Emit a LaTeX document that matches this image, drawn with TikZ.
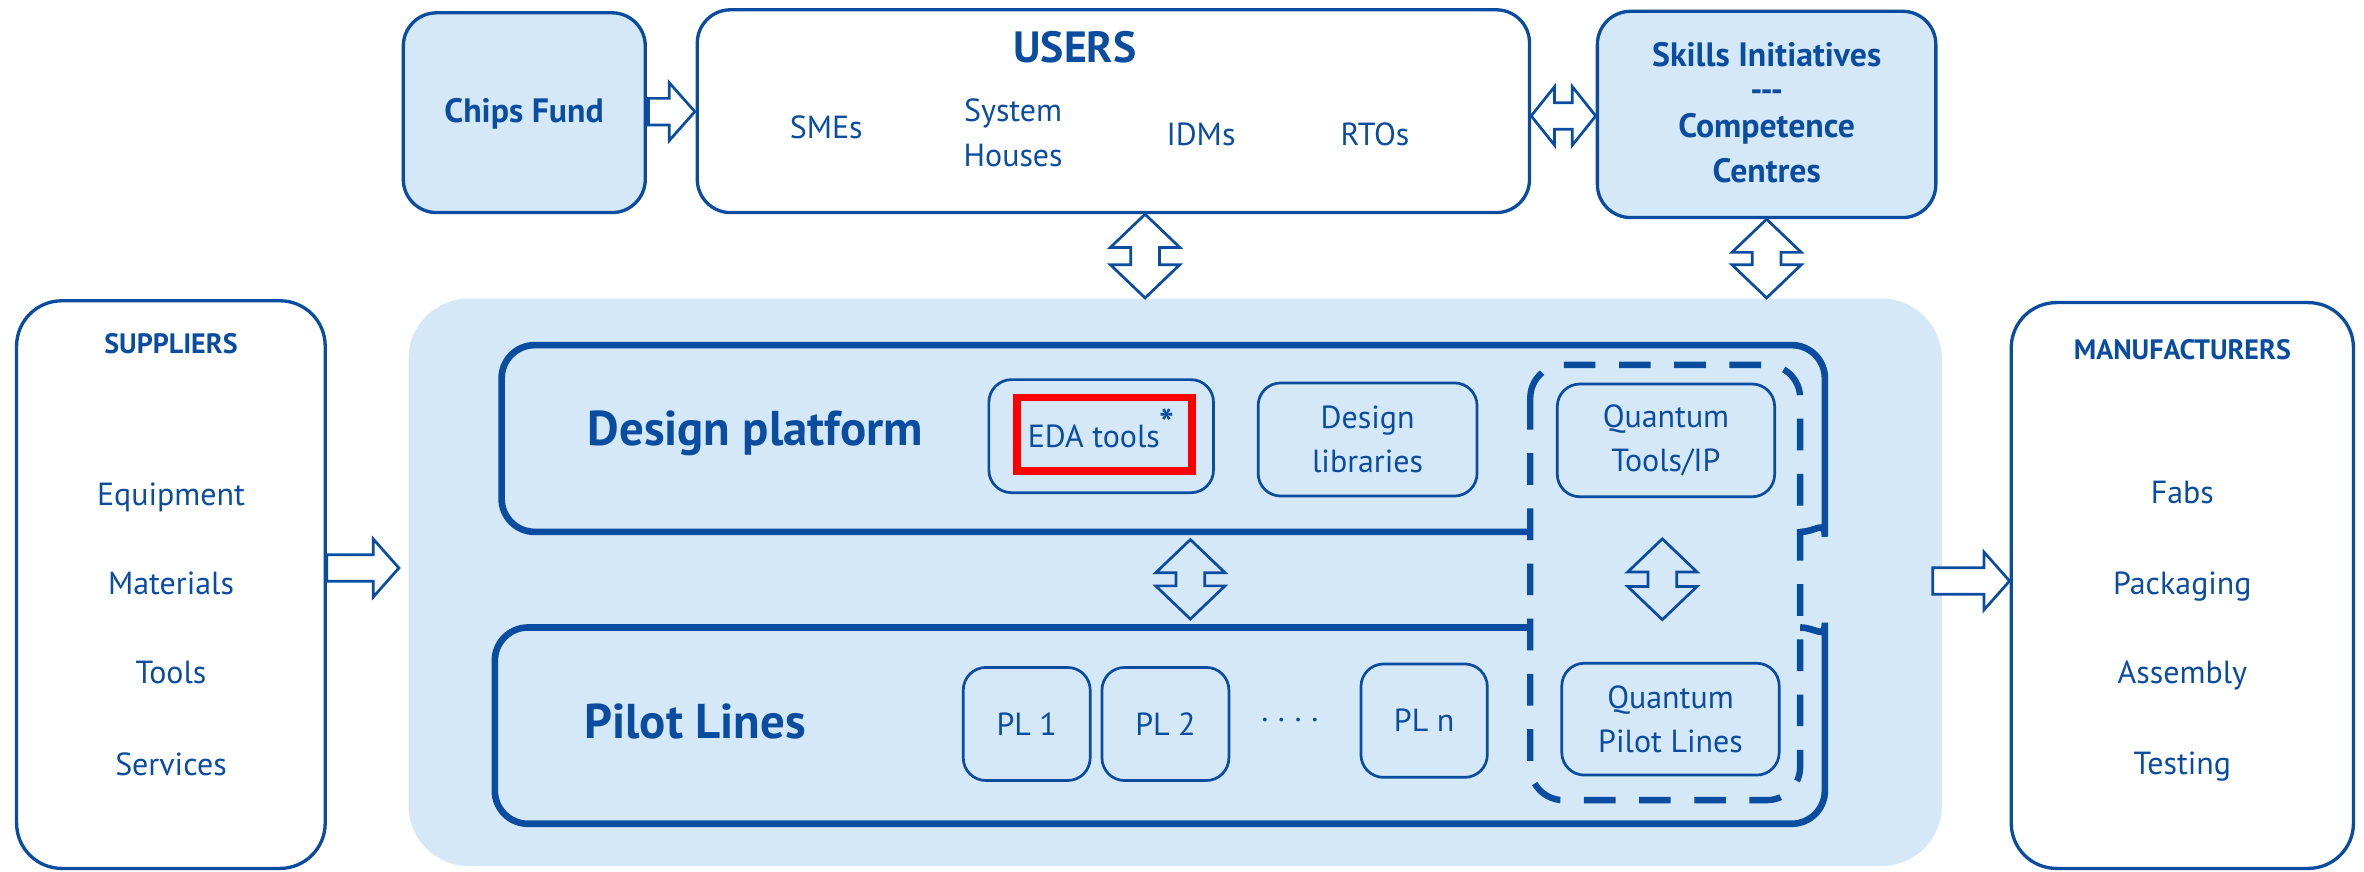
\documentclass[tikz,border=0pt]{standalone}
\usepackage{fontspec}
\setmainfont{PT Sans}
\usetikzlibrary{calc,fit}
\definecolor{eublue}{HTML}{0A4DA0}
\definecolor{eulight}{HTML}{D4E8F8}
\definecolor{edared}{HTML}{FF0000}
\newcommand\fsR{\fontsize{10.6}{14.5}\selectfont}
\newcommand\fsH{\bfseries\fontsize{9.3}{11}\selectfont}
\newcommand\fsM{\bfseries\fontsize{11.2}{13}\selectfont}
\newcommand\fsU{\bfseries\fontsize{14.5}{17}\selectfont}
\newcommand\fsL{\bfseries\fontsize{16.2}{19}\selectfont}
\tikzset{
  bigbox/.style={draw=eublue, line width=1.1pt, rounded corners=11pt, inner sep=0pt},
  smallbox/.style={draw=eublue, line width=0.9pt, rounded corners=7.5pt, fill=eulight, inner sep=0pt, align=center, text=eublue, font=\fsR},
  tx/.style={text=eublue, inner sep=0pt, anchor=base},
  frameline/.style={draw=eublue, line width=2.2pt},
  qframe/.style={draw=eublue, line width=2.1pt, dash pattern=on 10.5pt off 7.8pt, rounded corners=11pt},
  blockarrow/.style={draw=eublue, line width=0.9pt, line join=miter, miter limit=10}
}
% vertical double block arrow: #2 top tip, #3 bottom tip
\newcommand\vdarr[3][white]{%
  \path[blockarrow, fill=#1] let \p1=#2, \p2=#3 in
    (\x1,\y1) -- ++(11.5pt,-11pt) -- ++(-6.75pt,0pt) -- (\x1+4.75pt,\y2+11pt)
    -- ++(6.75pt,0pt) -- (\x1,\y2) -- ++(-11.5pt,11pt) -- ++(6.75pt,0pt)
    -- (\x1-4.75pt,\y1-11pt) -- ++(-6.75pt,0pt) -- cycle;}
% horizontal double block arrow: #2 left tip, #3 right tip
\newcommand\hdarr[3][white]{%
  \path[blockarrow, fill=#1] let \p1=#2, \p2=#3 in
    (\x1,\y1) -- ++(7.75pt,9.7pt) -- ++(0pt,-5.3pt) -- (\x2-7.75pt,\y1+4.4pt)
    -- ++(0pt,5.3pt) -- (\x2,\y1) -- ++(-7.75pt,-9.7pt) -- ++(0pt,5.3pt)
    -- (\x1+7.75pt,\y1-4.4pt) -- ++(0pt,-5.3pt) -- cycle;}
% right-pointing block arrow: #2 tail, #3 tip
\newcommand\rarr[3][white]{%
  \path[blockarrow, fill=#1] let \p1=#2, \p2=#3 in
    (\x1,\y1+4.4pt) -- (\x2-8.5pt,\y1+4.4pt) -- ++(0pt,5.2pt) -- (\x2,\y1)
    -- (\x2-8.5pt,\y1-9.6pt) -- ++(0pt,5.2pt) -- (\x1,\y1-4.4pt) -- cycle;}
\begin{document}
\begin{tikzpicture}[x=0.5pt,y=-0.5pt]
\useasboundingbox (0,0) rectangle (1568,578);

% background panel
\node[fill=eulight, rounded corners=20pt, inner sep=0pt, fit={(271,198) (1288,574.4)}] (bg) {};

% outer boxes
\node[bigbox, fill=white, rounded corners=15pt, fit={(11,199.5) (215.7,576)}] (sup) {};
\node[bigbox, fill=white, rounded corners=15pt, fit={(1334,200.7) (1561,576)}] (manuf) {};
\node[bigbox, fill=eulight, fit={(267.5,8.5) (428,141)}] (chips) {};
\node[bigbox, fill=white, fit={(462.5,6.5) (1014.5,141)}] (users) {};
\node[bigbox, fill=eulight, fit={(1059.5,7.5) (1284,144.3)}] (skills) {};

% design platform / pilot lines frames
\node[inner sep=0pt, fit={(330.5,226.7) (1212.6,355)}] (dp) {};
\node[inner sep=0pt, fit={(326,414) (1212.6,548.6)}] (pl) {};
\draw[frameline, rounded corners=11pt] (1016.5,352.8) -- (332.7,352.8) -- (332.7,228.9) -- (1210.4,228.9) -- (1210.4,334)
  [sharp corners] .. controls (1210.4,344.5) and (1204.5,352.8) .. (1194,352.8);
\draw[frameline, rounded corners=11pt] (1016.5,416.2) -- (328.2,416.2) -- (328.2,546.4) -- (1210.4,546.4) -- (1210.4,435)
  [sharp corners] .. controls (1210.4,424.5) and (1204.5,416.2) .. (1194,416.2);
\draw[qframe] (1015,242) rectangle (1194,530.7);

% inner boxes
\node[smallbox, minimum width=74.5pt, minimum height=37.5pt] (eda) at (730.4,289.3) {EDA tools\smash{\raisebox{0.3em}{\fontsize{13}{13}\selectfont\bfseries *}}};
\node[draw=edared, line width=2.5pt, inner sep=0pt, minimum width=58pt, minimum height=24.5pt] (edahl) at (732.5,288) {};
\node[smallbox, minimum width=72.6pt, minimum height=37.5pt] (lib) at (907.1,291.5) {Design\\libraries};
\node[smallbox, minimum width=72.1pt, minimum height=37.4pt] (qtools) at (1105,292.1) {Quantum\\Tools/IP};
\node[smallbox, minimum width=72.1pt, minimum height=37.1pt] (qpl) at (1108,477) {Quantum\\Pilot Lines};
\node[smallbox, minimum width=42.1pt, minimum height=37.5pt] (pl1) at (681,480.2) {PL 1};
\node[smallbox, minimum width=42.1pt, minimum height=37.5pt] (pl2) at (773,480.2) {PL 2};
\node[smallbox, minimum width=41.9pt, minimum height=37.6pt] (pln) at (944.6,478) {PL n};
\node[tx, font=\fsR] (dots) at (855.5,484) {·\kern2.7pt·\kern2.7pt·\kern2.7pt·};

% texts
\node[tx, font=\fsL] (tdp) at (501,295.2) {Design platform};
\node[tx, font=\fsL] (tpl) at (461,489.7) {Pilot Lines};

\node[tx, font=\fsU] (tusers) at (713,41.2) {USERS};
\node[tx, font=\fsR] (tsme) at (548,92) {SMEs};
\node[tx, font=\fsR] (tsys1) at (672,80.7) {System};
\node[tx, font=\fsR] (tsys2) at (672,110.6) {Houses};
\node[tx, font=\fsR] (tidm) at (796.6,96.6) {IDMs};
\node[tx, font=\fsR] (trto) at (912,96.6) {RTOs};

\node[tx, font=\fsM] (tchips) at (347.6,81.4) {Chips Fund};

\node[tx, font=\fsM] (tsk1) at (1171.8,43.8) {Skills Initiatives};
\node[tx, font=\fsM] (tsk2) at (1171.8,67) {-{}-{}-};
\node[tx, font=\fsM] (tsk3) at (1171.8,91.3) {Competence};
\node[tx, font=\fsM] (tsk4) at (1171.8,121.2) {Centres};

\node[tx, font=\fsH] (tsup) at (113.4,234.5) {SUPPLIERS};
\node[tx, font=\fsR] (ts1) at (113.4,335.4) {Equipment};
\node[tx, font=\fsR] (ts2) at (113.4,394.4) {Materials};
\node[tx, font=\fsR] (ts3) at (113.4,453.4) {Tools};
\node[tx, font=\fsR] (ts4) at (113.4,514.4) {Services};

\node[tx, font=\fsH] (tman) at (1447.5,238.3) {MANUFACTURERS};
\node[tx, font=\fsR] (tm1) at (1447.5,334.1) {Fabs};
\node[tx, font=\fsR] (tm2) at (1447.5,394.3) {Packaging};
\node[tx, font=\fsR] (tm3) at (1447.5,453.4) {Assembly};
\node[tx, font=\fsR] (tm4) at (1447.5,513.4) {Testing};

% block arrows
\rarr{($(chips.east)+(1,-0.7)$)}{($(users.west)+(-0.5,0)$)}
\hdarr{($(users.east |- skills.west)+(0,1)$)}{(skills.west)}
\vdarr{($(users.south)+(21,0)$)}{(bg.north)}
\vdarr{(skills.south)}{(bg.north)}
\vdarr[eulight]{($(dp.south)+(18,2.5)$)}{($(pl.north)+(0,-3)$)}
\vdarr[eulight]{($(qtools.south)+(-2.4,27)$)}{($(qpl.north)+(0,-28)$)}
\rarr{($(sup.east)+(0,-11)$)}{($(bg.west)+(-6,0)$)}
\rarr{($(manuf.west)+(-51,-3)$)}{(manuf.west)}
\end{tikzpicture}
\end{document}
